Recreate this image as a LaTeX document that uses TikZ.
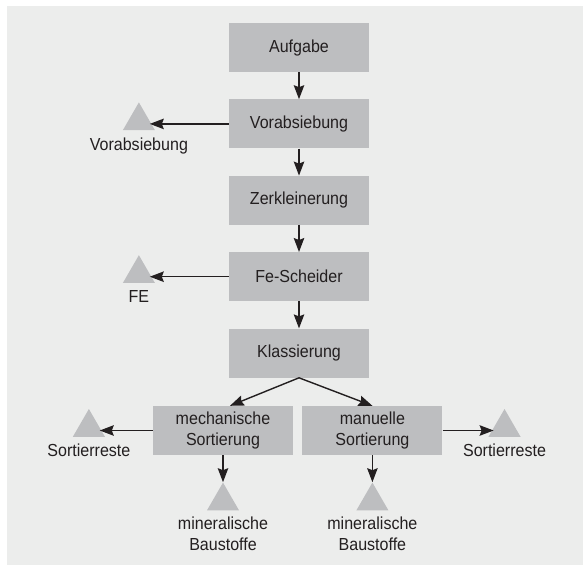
\documentclass[tikz,border=0pt]{standalone}
\usepackage{fontspec}
\setmainfont{Liberation Sans}[FakeStretch=0.92]
\usepackage{tikz}
\usetikzlibrary{arrows.meta,shapes.geometric,positioning}
\definecolor{bggray}{RGB}{236,237,236}
\definecolor{boxgray}{RGB}{189,190,192}
\definecolor{txtgray}{RGB}{35,31,32}

\begin{document}
\begin{tikzpicture}[x=1bp,y=1bp]
\tikzstyle{every node}=[font=\fontsize{17.5}{21.5}\selectfont,text=txtgray]
\tikzstyle{stage}=[rectangle,fill=boxgray,minimum width=140bp,minimum height=49bp,inner sep=0pt,align=center]
\tikzstyle{heap}=[regular polygon,regular polygon sides=3,fill=boxgray,minimum size=37bp,inner sep=0pt]
\tikzstyle{heaplabel}=[inner sep=0pt,align=center]
\tikzstyle{flow}=[-{Stealth[length=14bp,width=10.5bp,inset=2bp]},line width=1.4bp,draw=txtgray]

\useasboundingbox (0,0) rectangle (583,-565);
\fill[bggray] (7,-6) rectangle (583,-565);

% main line
\node[stage] (aufgabe) at (299,-47.5) {Aufgabe};
\node[stage,below=27bp of aufgabe] (vorab) {Vorabsiebung};
\node[stage,below=27bp of vorab] (zerkl) {Zerkleinerung};
\node[stage,below=27bp of zerkl] (fesch) {Fe-Scheider};
\node[stage,below=27bp of fesch] (klass) {Klassierung};
\node[stage,below=28bp of klass,xshift=-76bp] (mech) {mechanische\\Sortierung};
\node[stage,right=9bp of mech] (manu) {manuelle\\Sortierung};

% outputs
\node[heap,left=79bp of vorab,yshift=3bp] (vtri) {};
\node[heaplabel,below=7bp of vtri] (vlab) {Vorabsiebung};
\node[heap,left=79bp of fesch,yshift=3bp] (ftri) {};
\node[heaplabel,below=7bp of ftri] (flab) {FE};
\node[heap,left=53bp of mech,yshift=3bp] (ltri) {};
\node[heaplabel,below=7bp of ltri] (llab) {Sortierreste};
\node[heap,right=51bp of manu,yshift=3bp] (rtri) {};
\node[heaplabel,below=7bp of rtri] (rlab) {Sortierreste};
\node[heap,below=27bp of mech] (mtri) {};
\node[heaplabel,below=6bp of mtri] (mlab) {mineralische\\Baustoffe};
\node[heap,below=27bp of manu] (utri) {};
\node[heaplabel,below=6bp of utri] (ulab) {mineralische\\Baustoffe};

% arrows
\draw[flow] (aufgabe) -- (vorab);
\draw[flow] (vorab) -- (zerkl);
\draw[flow] (zerkl) -- (fesch);
\draw[flow] (fesch) -- (klass);
\draw[flow] (klass.south) -- ([xshift=7bp]mech.north);
\draw[flow] (klass.south) -- (manu.north);
\draw[flow] (vorab.west) -- (vorab.west -| vtri.east);
\draw[flow] (fesch.west) -- (fesch.west -| ftri.east);
\draw[flow] (mech.west) -- (mech.west -| ltri.east);
\draw[flow] (manu.east) -- (manu.east -| rtri.west);
\draw[flow] (mech) -- (mtri);
\draw[flow] (manu) -- (utri);
\end{tikzpicture}
\end{document}
